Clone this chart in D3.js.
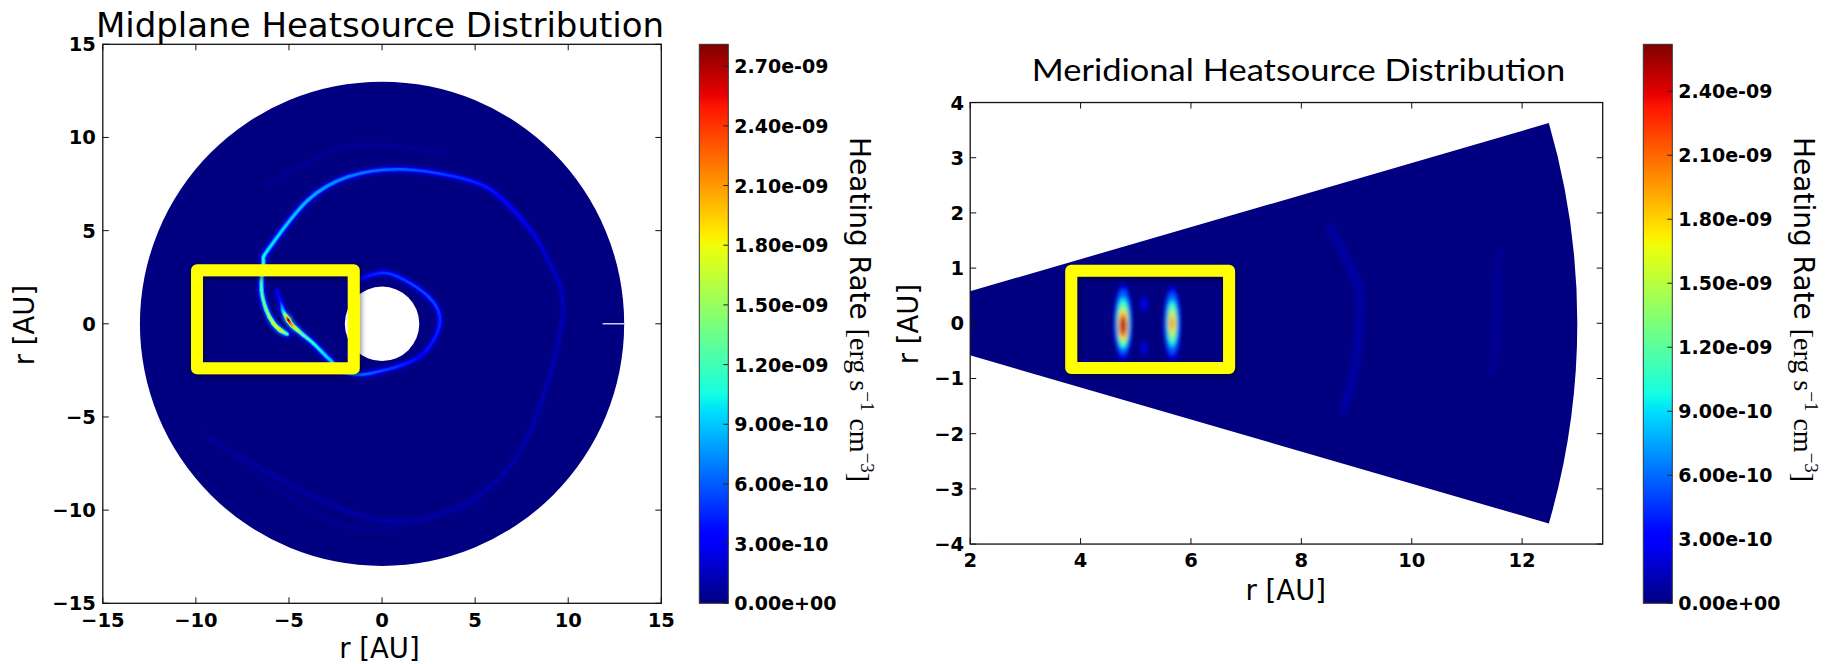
<!DOCTYPE html>
<html>
<head>
<meta charset="utf-8">
<script src="https://cdn.jsdelivr.net/npm/d3@7"></script>
<style>
  html, body { margin: 0; padding: 0; background: #fff; }
  svg { display: block; }
  text { white-space: pre; }
</style>
</head>
<body>
<svg id="fig" width="1835" height="664"></svg>
<script>
// ---------------- data ----------------
const midTicks = [-15, -10, -5, 0, 5, 10, 15];
const merXTicks = [2, 4, 6, 8, 10, 12];
const merYTicks = [-4, -3, -2, -1, 0, 1, 2, 3, 4];
const midColorTicks = [0, 3e-10, 6e-10, 9e-10, 1.2e-9, 1.5e-9, 1.8e-9, 2.1e-9, 2.4e-9, 2.7e-9];
const merColorTicks = [0, 3e-10, 6e-10, 9e-10, 1.2e-9, 1.5e-9, 1.8e-9, 2.1e-9, 2.4e-9];
const midVmax = 2.81e-9;
const merVmax = 2.62e-9;

// disk (AU) and meridional wedge
const diskRadii = [2, 13];
const wedgeRadii = [2, 13];
const wedgeHalfAngleDeg = 16.2;

// midplane spiral features: [azimuth deg, radius AU, heating rate 1e-9]
const outerArm = [
  [186.2, 5.13, 1.2], [183.4, 5.49, 1.9], [179.7, 5.84, 1.7], [173.2, 6.26, 1.4],
  [164.4, 6.72, 1.2], [153.0, 7.16, 1.1], [147.1, 7.30, 1.0], [120.9, 7.74, 0.85],
  [103.0, 8.10, 0.7], [82.7, 8.36, 0.6], [58.9, 9.00, 0.45], [45.4, 9.30, 0.35],
  [24.6, 9.50, 0.2], [0.0, 9.65, 0.13], [-50.6, 10.37, 0.1], [-90.4, 10.53, 0.09],
  [-146.0, 11.16, 0.07]
];
const innerArm = [
  [162.4, 5.94, 0.25], [167.6, 5.58, 0.4], [173.0, 5.34, 1.0], [177.7, 5.03, 2.7],
  [180.7, 4.85, 2.1], [187.3, 4.33, 1.3], [195.9, 3.84, 1.1], [216.9, 3.38, 0.9],
  [232.7, 3.27, 0.75], [256.9, 2.73, 0.6], [318.5, 2.67, 0.35], [360.0, 3.10, 0.45],
  [390.0, 2.89, 0.55], [442.8, 2.73, 0.5], [479.7, 2.70, 0.35]
];
const topFaintRing = [[130, 9.7, 0.07], [100, 9.7, 0.08], [70, 9.75, 0.07]];
const bottomFaintRing = [[-60, 11.0, 0.06], [-100, 11.05, 0.06], [-150, 11.3, 0.05]];
// azimuthal seam with no data: [azimuth deg, r from, r to]
const midSeam = [0, 11.85, 13.0];

// meridional hot spots: centre [r, z] AU and nested levels [rate 1e-9, half width, half height, z shift]
const blobCentres = [[4.77, 0.0], [5.66, 0.0]];
const blobLevels = [
  [[0.25, 0.17, 0.70, 0.02], [0.6, 0.13, 0.58, 0.02], [1.0, 0.11, 0.46, 0.0],
   [1.4, 0.095, 0.36, -0.02], [1.8, 0.085, 0.28, -0.03], [2.2, 0.07, 0.21, -0.04],
   [2.5, 0.05, 0.14, -0.04]],
  [[0.25, 0.16, 0.68, 0.0], [0.6, 0.12, 0.55, 0.0], [1.0, 0.09, 0.42, 0.0],
   [1.4, 0.075, 0.31, 0.0], [1.8, 0.055, 0.19, 0.0], [2.0, 0.035, 0.10, 0.0]]
];
// faint patches [r, z, rate 1e-9, half width, half height]
const merFaintSpots = [[5.15, 0.35, 0.25, 0.06, 0.15], [5.15, -0.45, 0.25, 0.06, 0.12]];
// faint streaks [[r, z], ...] with their rate
const merStreaks = [
  {rate: 0.12, pts: [[8.5, 1.75], [8.8, 1.2], [9.05, 0.6], [9.05, 0.0], [9.0, -0.6], [8.85, -1.3], [8.75, -1.6]]},
  {rate: 0.07, pts: [[11.6, 1.3], [11.55, 0.8], [11.55, 0.2], [11.5, -0.5], [11.45, -0.9]]}
];

// highlight boxes [x0, x1, y0, y1] in AU
const midBox = [-9.94, -1.52, -2.39, 2.88];
const merBox = [3.83, 6.69, -0.81, 0.95];

// matplotlib "jet" segment data
const jetR = [[0, 0], [0.35, 0], [0.66, 1], [0.89, 1], [1, 0.5]];
const jetG = [[0, 0], [0.125, 0], [0.375, 1], [0.64, 1], [0.91, 0], [1, 0]];
const jetB = [[0, 0.5], [0.11, 1], [0.34, 1], [0.65, 0], [1, 0]];

// ---------------- helpers ----------------
const chan = seg => d3.scaleLinear(seg.map(d => d[0]), seg.map(d => d[1])).clamp(true);
const cR = chan(jetR), cG = chan(jetG), cB = chan(jetB);
const jet = t => d3.rgb(cR(t) * 255, cG(t) * 255, cB(t) * 255).formatHex();

function sci(v) {
  if (v === 0) return "0.00e+00";
  const e = Math.floor(Math.log10(v) + 1e-9);
  const m = v / Math.pow(10, e);
  return m.toFixed(2) + "e" + (e < 0 ? "-" : "+") + String(Math.abs(e)).padStart(2, "0");
}
const minus = v => (v < 0 ? "\u2212" + Math.abs(v) : String(v));

const svg = d3.select("#fig");
const defs = svg.append("defs");

function addBlur(id, sd) {
  defs.append("filter").attr("id", id)
    .attr("x", "-20%").attr("y", "-20%").attr("width", "140%").attr("height", "140%")
    .append("feGaussianBlur").attr("stdDeviation", sd);
}
addBlur("blurCore", 0.7);
addBlur("blurHalo", 1.6);
addBlur("blurBlob", 2.0);
addBlur("blurStreak", 3.0);
const sh = defs.append("filter").attr("id", "boxShadow")
  .attr("x", "-10%").attr("y", "-10%").attr("width", "125%").attr("height", "130%");
sh.append("feDropShadow").attr("dx", 2).attr("dy", 3).attr("stdDeviation", 2.5)
  .attr("flood-color", "#000").attr("flood-opacity", 0.4);

const cbGrad = defs.append("linearGradient").attr("id", "jetGrad")
  .attr("x1", 0).attr("y1", 1).attr("x2", 0).attr("y2", 0);
d3.range(0, 101).forEach(k => cbGrad.append("stop").attr("offset", k / 100).attr("stop-color", jet(k / 100)));

let gradCount = 0;
// smooth colour-graded ridge through control points (px coords + rate)
function drawRidge(g, pts, vmax, layers) {
  layers.forEach(([frac, width, filt]) => {
    const lg = g.append("g").attr("filter", `url(#${filt})`);
    for (let i = 0; i < pts.length - 1; i++) {
      const p0 = pts[Math.max(i - 1, 0)], p1 = pts[i], p2 = pts[i + 1], p3 = pts[Math.min(i + 2, pts.length - 1)];
      const c1 = [p1[0] + (p2[0] - p0[0]) / 6, p1[1] + (p2[1] - p0[1]) / 6];
      const c2 = [p2[0] - (p3[0] - p1[0]) / 6, p2[1] - (p3[1] - p1[1]) / 6];
      const path = d3.path();
      path.moveTo(p1[0], p1[1]);
      path.bezierCurveTo(c1[0], c1[1], c2[0], c2[1], p2[0], p2[1]);
      const id = "rg" + (gradCount++);
      const gr = defs.append("linearGradient").attr("id", id).attr("gradientUnits", "userSpaceOnUse")
        .attr("x1", p1[0]).attr("y1", p1[1]).attr("x2", p2[0] + 0.01).attr("y2", p2[1] + 0.01);
      for (let k = 0; k <= 4; k++) {
        const v = p1[2] + (p2[2] - p1[2]) * k / 4;
        gr.append("stop").attr("offset", k / 4).attr("stop-color", jet(frac * v * 1e-9 / vmax));
      }
      lg.append("path").attr("d", path.toString()).attr("fill", "none")
        .attr("stroke", `url(#${id})`).attr("stroke-width", width).attr("stroke-linecap", "round");
    }
  });
}

function frame(g, x0, x1, y0, y1) {
  g.append("rect").attr("x", x0).attr("y", y0).attr("width", x1 - x0).attr("height", y1 - y0)
    .attr("fill", "none").attr("stroke", "#111").attr("stroke-width", 1.3);
}

const tickFont = "DejaVu Sans";
const TL = 6;

// ================= midplane panel =================
const xMid = d3.scaleLinear([-15, 15], [102.8, 661.3]);
const yMid = d3.scaleLinear([-15, 15], [603.3, 44.3]);
const pxAUmid = (xMid(1) - xMid(0) + yMid(0) - yMid(1)) / 2;
const cxMid = xMid(0), cyMid = yMid(0);
const midPt = d => [xMid(d[1] * Math.cos(d[0] * Math.PI / 180)), yMid(d[1] * Math.sin(d[0] * Math.PI / 180)), d[2]];

const gMid = svg.append("g");
const annulus = d3.arc()({innerRadius: diskRadii[0] * pxAUmid, outerRadius: diskRadii[1] * pxAUmid, startAngle: 0, endAngle: 2 * Math.PI});
defs.append("clipPath").attr("id", "diskClip")
  .append("path").attr("d", annulus).attr("transform", `translate(${cxMid},${cyMid})`);
gMid.append("path").attr("d", annulus).attr("transform", `translate(${cxMid},${cyMid})`).attr("fill", jet(0));

const gArms = gMid.append("g").attr("clip-path", "url(#diskClip)");
const ridgeLayers = [[0.3, 8, "blurHalo"], [0.65, 4.6, "blurCore"], [1.0, 2.4, "blurCore"]];
[outerArm, innerArm].forEach(a => drawRidge(gArms, a.map(midPt), midVmax, ridgeLayers));
[topFaintRing, bottomFaintRing].forEach(a => drawRidge(gArms, a.map(midPt), midVmax, [[1.0, 3, "blurHalo"]]));
// seam
gMid.append("line")
  .attr("x1", xMid(midSeam[1] * Math.cos(midSeam[0]))).attr("x2", xMid(midSeam[2] * Math.cos(midSeam[0])))
  .attr("y1", yMid(0)).attr("y2", yMid(0)).attr("stroke", "#fff").attr("stroke-width", 1.2);

// highlight box
gMid.append("rect")
  .attr("x", xMid(midBox[0])).attr("y", yMid(midBox[3]))
  .attr("width", xMid(midBox[1]) - xMid(midBox[0])).attr("height", yMid(midBox[2]) - yMid(midBox[3]))
  .attr("fill", "none").attr("stroke", "#ffff00").attr("stroke-width", 12)
  .attr("stroke-linejoin", "round").attr("filter", "url(#boxShadow)");

frame(gMid, xMid(-15), xMid(15), yMid(15), yMid(-15));
midTicks.forEach(t => {
  gMid.append("line").attr("x1", xMid(t)).attr("x2", xMid(t)).attr("y1", yMid(-15)).attr("y2", yMid(-15) - TL).attr("stroke", "#111");
  gMid.append("line").attr("x1", xMid(t)).attr("x2", xMid(t)).attr("y1", yMid(15)).attr("y2", yMid(15) + TL).attr("stroke", "#111");
  gMid.append("line").attr("y1", yMid(t)).attr("y2", yMid(t)).attr("x1", xMid(-15)).attr("x2", xMid(-15) + TL).attr("stroke", "#111");
  gMid.append("line").attr("y1", yMid(t)).attr("y2", yMid(t)).attr("x1", xMid(15)).attr("x2", xMid(15) - TL).attr("stroke", "#111");
  gMid.append("text").attr("x", xMid(t)).attr("y", yMid(-15) + 24).attr("text-anchor", "middle")
    .attr("font-family", tickFont).attr("font-weight", "bold").attr("font-size", 19.5).text(minus(t));
  gMid.append("text").attr("x", xMid(-15) - 7).attr("y", yMid(t) + 7).attr("text-anchor", "end")
    .attr("font-family", tickFont).attr("font-weight", "bold").attr("font-size", 19.5).text(minus(t));
});
svg.append("text").attr("x", 380).attr("y", 37.3).attr("font-family", "DejaVu Sans").attr("font-size", 34)
  .attr("text-anchor", "middle").text("Midplane Heatsource Distribution");
svg.append("text").attr("x", 379.5).attr("y", 658).attr("font-family", "DejaVu Sans").attr("font-size", 27.5)
  .attr("text-anchor", "middle").text("r [AU]");
svg.append("text").attr("transform", `translate(34,325) rotate(-90)`).attr("font-family", "DejaVu Sans")
  .attr("font-size", 27.5).attr("text-anchor", "middle").text("r [AU]");

// ================= meridional panel =================
const xMer = d3.scaleLinear([2, 13.46], [970.2, 1602.7]);
const pxAUmer = xMer(1) - xMer(0);
const yMer = d3.scaleLinear([-4, 4], [323.3 + 4 * pxAUmer, 323.3 - 4 * pxAUmer]);
const gMer = svg.append("g");
defs.append("clipPath").attr("id", "merAxClip").append("rect")
  .attr("x", xMer(2)).attr("y", yMer(4)).attr("width", xMer(13.46) - xMer(2)).attr("height", yMer(-4) - yMer(4));
const th = wedgeHalfAngleDeg * Math.PI / 180;
const wedge = d3.arc()({innerRadius: wedgeRadii[0] * pxAUmer, outerRadius: wedgeRadii[1] * pxAUmer,
  startAngle: Math.PI / 2 - th, endAngle: Math.PI / 2 + th});
defs.append("clipPath").attr("id", "wedgeClip").append("path").attr("d", wedge)
  .attr("transform", `translate(${xMer(0)},${yMer(0)})`);
const gW = gMer.append("g").attr("clip-path", "url(#merAxClip)");
gW.append("path").attr("d", wedge).attr("transform", `translate(${xMer(0)},${yMer(0)})`).attr("fill", jet(0));
const gClipW = gW.append("g").attr("clip-path", "url(#wedgeClip)");
const gStreak = gClipW.append("g").attr("filter", "url(#blurStreak)");
const gHeat = gClipW.append("g").attr("filter", "url(#blurBlob)");
const streakLine = d3.line().x(d => xMer(d[0])).y(d => yMer(d[1])).curve(d3.curveCatmullRom);
merStreaks.forEach(s => gStreak.append("path").attr("d", streakLine(s.pts)).attr("fill", "none")
  .attr("stroke", jet(s.rate * 1e-9 / merVmax)).attr("stroke-width", 6).attr("stroke-linecap", "round"));
merFaintSpots.forEach(s => gHeat.append("ellipse").attr("cx", xMer(s[0])).attr("cy", yMer(s[1]))
  .attr("rx", s[3] * pxAUmer).attr("ry", s[4] * pxAUmer).attr("fill", jet(s[2] * 1e-9 / merVmax)));
blobCentres.forEach((c, i) => {
  blobLevels[i].forEach(l => gHeat.append("ellipse")
    .attr("cx", xMer(c[0])).attr("cy", yMer(c[1] + l[3]))
    .attr("rx", l[1] * pxAUmer).attr("ry", l[2] * pxAUmer)
    .attr("fill", jet(l[0] * 1e-9 / merVmax)));
});
gMer.append("rect")
  .attr("x", xMer(merBox[0])).attr("y", yMer(merBox[3]))
  .attr("width", xMer(merBox[1]) - xMer(merBox[0])).attr("height", yMer(merBox[2]) - yMer(merBox[3]))
  .attr("fill", "none").attr("stroke", "#ffff00").attr("stroke-width", 12)
  .attr("stroke-linejoin", "round").attr("filter", "url(#boxShadow)");

frame(gMer, xMer(2), xMer(13.46), yMer(4), yMer(-4));
merXTicks.forEach(t => {
  gMer.append("line").attr("x1", xMer(t)).attr("x2", xMer(t)).attr("y1", yMer(-4)).attr("y2", yMer(-4) - TL).attr("stroke", "#111");
  gMer.append("line").attr("x1", xMer(t)).attr("x2", xMer(t)).attr("y1", yMer(4)).attr("y2", yMer(4) + TL).attr("stroke", "#111");
  gMer.append("text").attr("x", xMer(t)).attr("y", yMer(-4) + 23).attr("text-anchor", "middle")
    .attr("font-family", tickFont).attr("font-weight", "bold").attr("font-size", 19.5).text(minus(t));
});
merYTicks.forEach(t => {
  gMer.append("line").attr("y1", yMer(t)).attr("y2", yMer(t)).attr("x1", xMer(2)).attr("x2", xMer(2) + TL).attr("stroke", "#111");
  gMer.append("line").attr("y1", yMer(t)).attr("y2", yMer(t)).attr("x1", xMer(13.46)).attr("x2", xMer(13.46) - TL).attr("stroke", "#111");
  gMer.append("text").attr("x", xMer(2) - 6).attr("y", yMer(t) + 7).attr("text-anchor", "end")
    .attr("font-family", tickFont).attr("font-weight", "bold").attr("font-size", 19.5).text(minus(t));
});
svg.append("text").attr("x", 1031.8).attr("y", 80.7).attr("font-family", "Lato").attr("font-size", 31)
  .attr("textLength", 533.5).attr("lengthAdjust", "spacingAndGlyphs").text("Meridional Heatsource Distribution");
svg.append("text").attr("x", 1285.8).attr("y", 600).attr("font-family", "DejaVu Sans").attr("font-size", 27.5)
  .attr("text-anchor", "middle").text("r [AU]");
svg.append("text").attr("transform", `translate(918,324) rotate(-90)`).attr("font-family", "DejaVu Sans")
  .attr("font-size", 27.5).attr("text-anchor", "middle").text("r [AU]");

// ================= colour bars =================
function colorbar(x0, vmax, ticks, labelX) {
  const y = d3.scaleLinear([0, vmax], [603.3, 44.3]);
  const w = 29;
  const g = svg.append("g");
  g.append("rect").attr("x", x0).attr("y", y(vmax)).attr("width", w).attr("height", y(0) - y(vmax))
    .attr("fill", "url(#jetGrad)").attr("stroke", "#333").attr("stroke-width", 1);
  ticks.forEach(t => {
    g.append("line").attr("x1", x0 + w).attr("x2", x0 + w - 5).attr("y1", y(t)).attr("y2", y(t)).attr("stroke", "#222");
    g.append("text").attr("x", x0 + w + 6).attr("y", y(t) + 7).attr("font-family", tickFont)
      .attr("font-weight", "bold").attr("font-size", 19).text(sci(t));
  });
  const lab = g.append("text").attr("transform", `translate(${labelX},137) rotate(90)`).attr("text-anchor", "start");
  lab.append("tspan").attr("font-family", "DejaVu Sans").attr("font-size", 28).text("Heating Rate ");
  lab.append("tspan").attr("font-family", "Liberation Serif").attr("font-size", 28).text("[erg s");
  lab.append("tspan").attr("font-family", "Liberation Serif").attr("font-size", 19).attr("dy", -11).text("\u22121");
  lab.append("tspan").attr("font-family", "Liberation Serif").attr("font-size", 28).attr("dy", 11).text(" cm");
  lab.append("tspan").attr("font-family", "Liberation Serif").attr("font-size", 19).attr("dy", -11).text("\u22123");
  lab.append("tspan").attr("font-family", "Liberation Serif").attr("font-size", 28).attr("dy", 11).text("]");
}
colorbar(699.3, midVmax, midColorTicks, 850);
colorbar(1643.3, merVmax, merColorTicks, 1794);
</script>
</body>
</html>
